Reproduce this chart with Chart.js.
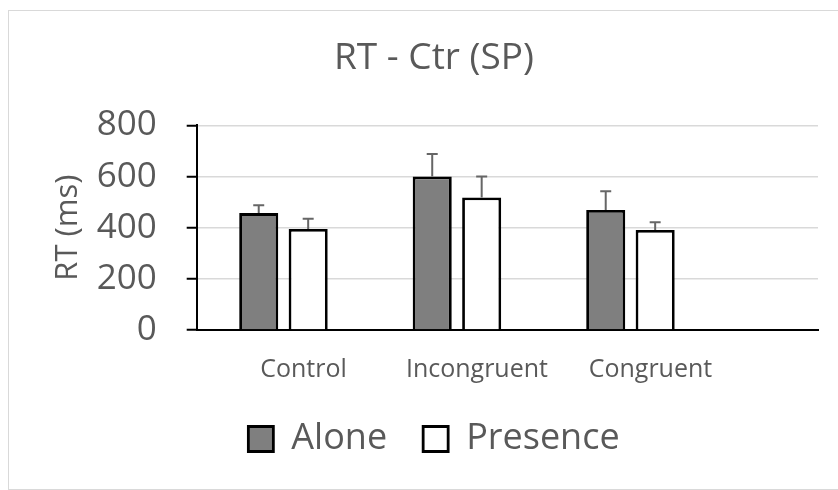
<!DOCTYPE html>
<html>
<head>
<meta charset="utf-8">
<script src="https://cdn.jsdelivr.net/npm/chart.js@4.4.1/dist/chart.umd.min.js"></script>
<style>
  body { margin: 0; background: #fff; }
  #wrap { position: relative; width: 838px; height: 490px; overflow: hidden; }
  #frame { position: absolute; left: 8px; top: 10px; width: 840px; height: 478px; border: 1.5px solid #d9d9d9; }
  #chart { position: absolute; left: 0; top: 0; }
</style>
</head>
<body>
<div id="wrap">
  <div id="frame"></div>
  <canvas id="chart" width="838" height="490"></canvas>
</div>
<script>
// 条件ラベル
const categories = ['Control', 'Incongruent', 'Congruent'];

// 平均RT (ms)
const aloneRT = [457, 600, 469];
const presenceRT = [395, 518, 391];

// エラーバー (上側のみ)
const aloneErr = [31, 88, 74];
const presenceErr = [40, 82, 30];

const yTicks = [0, 200, 400, 600, 800];

const textColor = '#595959';

// 上向きエラーバー
const errorBars = {
    id: 'errorBars',
    afterDatasetsDraw(chart) {
        const ctx = chart.ctx;
        const y = chart.scales.y;
        ctx.save();
        ctx.strokeStyle = '#666666';
        ctx.lineWidth = 2;
        chart.data.datasets.forEach((ds, di) => {
            const meta = chart.getDatasetMeta(di);
            meta.data.forEach((bar, i) => {
                const top = y.getPixelForValue(ds.data[i].y + ds.errors[i]);
                ctx.beginPath();
                ctx.moveTo(bar.x, bar.y);
                ctx.lineTo(bar.x, top);
                ctx.moveTo(bar.x - 5.5, top);
                ctx.lineTo(bar.x + 5.5, top);
                ctx.stroke();
            });
        });
        ctx.restore();
    }
};

// カテゴリ位置 (0.5, 1.5, 2.5) に配置
const toPoints = arr => arr.map((v, i) => ({ x: i + 0.5, y: v }));

new Chart(document.getElementById('chart'), {
    type: 'bar',
    data: {
        datasets: [{
            label: 'Alone',
            data: toPoints(aloneRT),
            errors: aloneErr,
            backgroundColor: '#7f7f7f',
            borderColor: '#000000',
            borderWidth: 2.8
        }, {
            label: 'Presence',
            data: toPoints(presenceRT),
            errors: presenceErr,
            backgroundColor: '#ffffff',
            borderColor: '#000000',
            borderWidth: 2.8
        }]
    },
    options: {
        responsive: false,
        animation: false,
        events: [],
        categoryPercentage: 0.57,
        barPercentage: 0.79,
        layout: { padding: { left: 50, right: 20, top: 0, bottom: 23 } },
        plugins: {
            tooltip: { enabled: false },
            title: {
                display: true,
                text: 'RT - Ctr (SP)',
                color: textColor,
                font: { family: 'Open Sans', size: 37, weight: 'normal' },
                padding: { top: 36, bottom: 45 }
            },
            legend: {
                position: 'bottom',
                labels: {
                    color: textColor,
                    font: { family: 'Open Sans', size: 36 },
                    boxWidth: 25,
                    boxHeight: 25,
                    padding: 36
                }
            }
        },
        scales: {
            x: {
                type: 'linear',
                min: 0,
                max: 3.581,
                offset: false,
                bounds: 'data',
                afterBuildTicks: scale => {
                    scale.ticks = categories.map((_, i) => ({ value: i + 0.5 }));
                },
                afterFit: scale => { scale.height = 55; },
                ticks: {
                    callback: (v, i) => categories[i],
                    color: textColor,
                    font: { family: 'Open Sans', size: 25 },
                    padding: 25,
                    labelOffset: 20,
                    maxRotation: 0,
                    autoSkip: false
                },
                grid: { drawOnChartArea: false, drawTicks: false, color: 'transparent' },
                border: { display: true, color: '#000000', width: 2 }
            },
            y: {
                min: 0,
                max: 800,
                afterBuildTicks: scale => {
                    scale.ticks = yTicks.map(v => ({ value: v }));
                },
                afterFit: scale => { scale.width = 146.7; },
                ticks: {
                    color: textColor,
                    font: { family: 'Open Sans', size: 35 },
                    padding: 30,
                    autoSkip: false
                },
                grid: {
                    color: ctx => ctx.tick && ctx.tick.value === 0 ? 'transparent' : '#d9d9d9',
                    lineWidth: 1.5,
                    tickColor: '#000000',
                    tickLength: 10,
                    tickWidth: 2
                },
                border: { display: true, color: '#000000', width: 2 },
                title: {
                    display: true,
                    text: 'RT (ms)',
                    color: textColor,
                    font: { family: 'Open Sans', size: 31 },
                    padding: { top: 0, bottom: 9 }
                }
            }
        }
    },
    plugins: [errorBars]
});
</script>
</body>
</html>
